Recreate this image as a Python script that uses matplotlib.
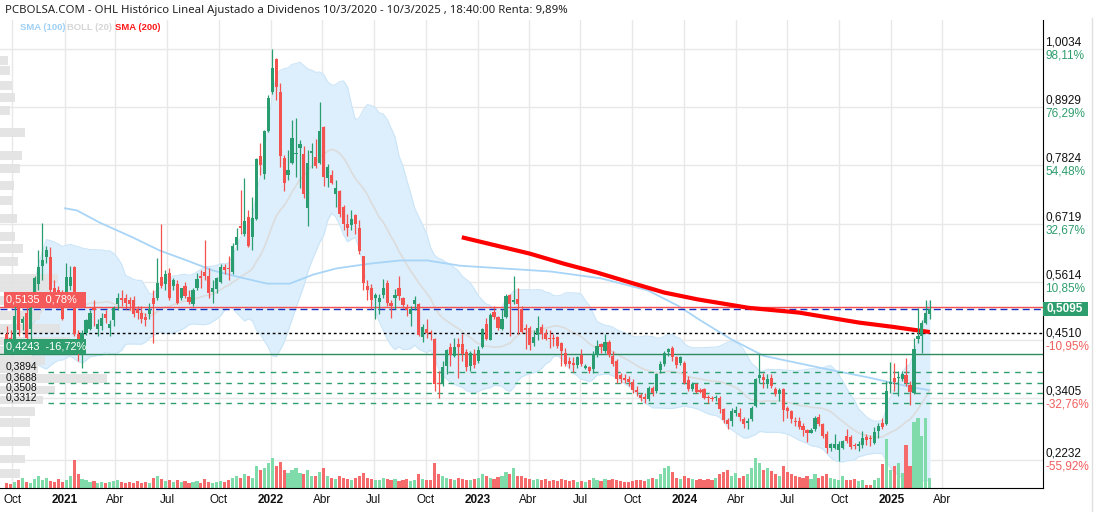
import numpy as np
import pandas as pd
import matplotlib
matplotlib.use("Agg")
import matplotlib.pyplot as plt
import matplotlib.dates as mdates
from matplotlib.transforms import blended_transform_factory
from matplotlib.patches import Rectangle
from matplotlib.lines import Line2D

# weekly candles, first week 2020-09-21
opens = [
    0.463, 0.455, 0.453, 0.512, 0.484, 0.503, 0.472, 0.539, 0.558, 0.592,
    0.608, 0.608, 0.549, 0.545, 0.541, 0.541, 0.554, 0.589, 0.463, 0.453,
    0.465, 0.472, 0.514, 0.472, 0.478, 0.501, 0.474, 0.488, 0.520, 0.531,
    0.530, 0.526, 0.526, 0.510, 0.503, 0.495, 0.501, 0.531, 0.530, 0.570,
    0.558, 0.579, 0.554, 0.558, 0.530, 0.554, 0.533, 0.520, 0.549, 0.573,
    0.581, 0.573, 0.543, 0.547, 0.562, 0.589, 0.587, 0.581, 0.632, 0.667,
    0.653, 0.684, 0.646, 0.680, 0.800, 0.767, 0.847, 0.921, 0.984, 0.921,
    0.796, 0.764, 0.788, 0.804, 0.815, 0.804, 0.701, 0.806, 0.798, 0.788,
    0.855, 0.758, 0.764, 0.729, 0.733, 0.703, 0.672, 0.670, 0.689, 0.663,
    0.610, 0.554, 0.550, 0.530, 0.524, 0.537, 0.560, 0.522, 0.530, 0.549,
    0.530, 0.512, 0.501, 0.520, 0.520, 0.457, 0.472, 0.467, 0.453, 0.370,
    0.370, 0.402, 0.438, 0.421, 0.444, 0.444, 0.429, 0.402, 0.425, 0.412,
    0.438, 0.482, 0.451, 0.505, 0.495, 0.472, 0.495, 0.537, 0.524, 0.528,
    0.510, 0.474, 0.474, 0.446, 0.461, 0.476, 0.465, 0.455, 0.455, 0.457,
    0.446, 0.427, 0.412, 0.408, 0.404, 0.423, 0.398, 0.400, 0.396, 0.423,
    0.444, 0.431, 0.448, 0.421, 0.412, 0.385, 0.379, 0.377, 0.372, 0.356,
    0.347, 0.343, 0.339, 0.360, 0.354, 0.394, 0.406, 0.429, 0.436, 0.419,
    0.408, 0.408, 0.375, 0.358, 0.368, 0.356, 0.358, 0.343, 0.341, 0.341,
    0.341, 0.320, 0.299, 0.297, 0.312, 0.312, 0.301, 0.293, 0.301, 0.326,
    0.379, 0.381, 0.368, 0.379, 0.358, 0.349, 0.358, 0.322, 0.316, 0.297,
    0.297, 0.288, 0.280, 0.274, 0.282, 0.305, 0.291, 0.272, 0.246, 0.246,
    0.242, 0.246, 0.269, 0.267, 0.252, 0.250, 0.252, 0.267, 0.265, 0.255,
    0.278, 0.293, 0.291, 0.368, 0.379, 0.379, 0.377, 0.385, 0.366, 0.351,
    0.453, 0.459, 0.484, 0.501]
closes = [
    0.453, 0.450, 0.497, 0.469, 0.491, 0.455, 0.512, 0.568, 0.589, 0.602,
    0.621, 0.545, 0.541, 0.526, 0.491, 0.570, 0.570, 0.463, 0.450, 0.465,
    0.488, 0.503, 0.507, 0.482, 0.493, 0.493, 0.482, 0.512, 0.531, 0.526,
    0.522, 0.520, 0.501, 0.503, 0.491, 0.488, 0.510, 0.520, 0.560, 0.554,
    0.577, 0.531, 0.564, 0.522, 0.549, 0.535, 0.524, 0.545, 0.566, 0.568,
    0.573, 0.541, 0.549, 0.568, 0.589, 0.583, 0.585, 0.630, 0.646, 0.663,
    0.676, 0.630, 0.682, 0.794, 0.783, 0.847, 0.911, 0.967, 0.931, 0.800,
    0.750, 0.773, 0.834, 0.806, 0.823, 0.729, 0.788, 0.809, 0.781, 0.847,
    0.760, 0.779, 0.750, 0.739, 0.691, 0.672, 0.663, 0.680, 0.672, 0.619,
    0.560, 0.545, 0.526, 0.537, 0.531, 0.550, 0.522, 0.516, 0.537, 0.535,
    0.518, 0.507, 0.510, 0.526, 0.461, 0.476, 0.465, 0.465, 0.368, 0.368,
    0.400, 0.432, 0.423, 0.438, 0.438, 0.425, 0.400, 0.427, 0.404, 0.432,
    0.472, 0.453, 0.499, 0.495, 0.474, 0.491, 0.535, 0.520, 0.526, 0.520,
    0.467, 0.470, 0.442, 0.457, 0.474, 0.463, 0.453, 0.453, 0.453, 0.440,
    0.431, 0.406, 0.406, 0.404, 0.419, 0.406, 0.402, 0.392, 0.425, 0.440,
    0.438, 0.448, 0.423, 0.406, 0.377, 0.377, 0.375, 0.372, 0.356, 0.352,
    0.341, 0.339, 0.360, 0.351, 0.387, 0.406, 0.427, 0.434, 0.419, 0.404,
    0.419, 0.370, 0.358, 0.368, 0.352, 0.352, 0.341, 0.341, 0.339, 0.343,
    0.320, 0.299, 0.291, 0.316, 0.318, 0.305, 0.291, 0.297, 0.322, 0.377,
    0.385, 0.375, 0.377, 0.364, 0.349, 0.356, 0.318, 0.316, 0.301, 0.295,
    0.286, 0.280, 0.274, 0.280, 0.303, 0.291, 0.269, 0.246, 0.254, 0.254,
    0.254, 0.259, 0.259, 0.248, 0.250, 0.254, 0.265, 0.261, 0.263, 0.276,
    0.288, 0.286, 0.354, 0.372, 0.372, 0.381, 0.387, 0.370, 0.352, 0.434,
    0.459, 0.484, 0.503, 0.5095]
highs = [
    0.478, 0.469, 0.526, 0.516, 0.497, 0.516, 0.516, 0.573, 0.621, 0.674,
    0.630, 0.627, 0.564, 0.554, 0.545, 0.598, 0.592, 0.592, 0.469, 0.469,
    0.491, 0.507, 0.526, 0.491, 0.503, 0.507, 0.488, 0.516, 0.541, 0.545,
    0.539, 0.533, 0.535, 0.516, 0.516, 0.503, 0.522, 0.545, 0.606, 0.672,
    0.583, 0.587, 0.568, 0.564, 0.550, 0.562, 0.545, 0.550, 0.579, 0.583,
    0.640, 0.587, 0.564, 0.570, 0.596, 0.596, 0.611, 0.636, 0.663, 0.735,
    0.758, 0.697, 0.722, 0.796, 0.825, 0.849, 0.916, 1.003, 0.986, 0.939,
    0.802, 0.811, 0.868, 0.872, 0.830, 0.819, 0.811, 0.825, 0.832, 0.902,
    0.857, 0.786, 0.773, 0.754, 0.735, 0.707, 0.691, 0.697, 0.691, 0.678,
    0.611, 0.564, 0.558, 0.541, 0.539, 0.566, 0.564, 0.526, 0.547, 0.573,
    0.533, 0.520, 0.516, 0.535, 0.522, 0.482, 0.491, 0.469, 0.455, 0.392,
    0.412, 0.434, 0.446, 0.455, 0.455, 0.463, 0.434, 0.431, 0.434, 0.440,
    0.474, 0.493, 0.503, 0.516, 0.497, 0.510, 0.539, 0.539, 0.573, 0.550,
    0.516, 0.482, 0.478, 0.469, 0.497, 0.482, 0.472, 0.469, 0.463, 0.459,
    0.448, 0.436, 0.419, 0.419, 0.421, 0.434, 0.406, 0.402, 0.431, 0.450,
    0.446, 0.463, 0.450, 0.431, 0.415, 0.389, 0.387, 0.383, 0.377, 0.364,
    0.351, 0.351, 0.364, 0.364, 0.389, 0.412, 0.431, 0.436, 0.440, 0.421,
    0.421, 0.412, 0.383, 0.372, 0.370, 0.360, 0.360, 0.347, 0.345, 0.347,
    0.345, 0.322, 0.303, 0.322, 0.326, 0.322, 0.305, 0.303, 0.326, 0.379,
    0.425, 0.389, 0.387, 0.387, 0.362, 0.360, 0.360, 0.326, 0.318, 0.305,
    0.305, 0.293, 0.282, 0.284, 0.307, 0.311, 0.293, 0.278, 0.255, 0.272,
    0.259, 0.261, 0.282, 0.271, 0.255, 0.259, 0.278, 0.272, 0.271, 0.286,
    0.293, 0.303, 0.373, 0.410, 0.408, 0.392, 0.392, 0.417, 0.373, 0.455,
    0.512, 0.488, 0.526, 0.526]
lows = [
    0.446, 0.440, 0.450, 0.459, 0.469, 0.450, 0.450, 0.526, 0.545, 0.564,
    0.598, 0.541, 0.533, 0.516, 0.488, 0.535, 0.545, 0.459, 0.412, 0.398,
    0.461, 0.469, 0.478, 0.459, 0.469, 0.484, 0.459, 0.478, 0.507, 0.516,
    0.510, 0.507, 0.495, 0.491, 0.484, 0.478, 0.491, 0.446, 0.526, 0.549,
    0.545, 0.526, 0.545, 0.520, 0.526, 0.531, 0.520, 0.516, 0.545, 0.550,
    0.564, 0.531, 0.522, 0.541, 0.560, 0.577, 0.564, 0.577, 0.621, 0.653,
    0.649, 0.628, 0.621, 0.678, 0.764, 0.756, 0.845, 0.919, 0.906, 0.779,
    0.733, 0.754, 0.786, 0.760, 0.739, 0.720, 0.668, 0.777, 0.777, 0.786,
    0.743, 0.741, 0.748, 0.703, 0.684, 0.659, 0.649, 0.659, 0.653, 0.615,
    0.545, 0.526, 0.510, 0.491, 0.501, 0.531, 0.516, 0.493, 0.510, 0.526,
    0.512, 0.497, 0.478, 0.507, 0.459, 0.448, 0.455, 0.450, 0.354, 0.341,
    0.364, 0.387, 0.402, 0.419, 0.379, 0.412, 0.392, 0.392, 0.398, 0.408,
    0.436, 0.450, 0.450, 0.491, 0.469, 0.469, 0.493, 0.459, 0.520, 0.463,
    0.465, 0.434, 0.432, 0.440, 0.450, 0.453, 0.450, 0.436, 0.440, 0.436,
    0.402, 0.402, 0.398, 0.390, 0.398, 0.402, 0.396, 0.389, 0.389, 0.419,
    0.427, 0.427, 0.419, 0.402, 0.370, 0.370, 0.370, 0.364, 0.351, 0.345,
    0.335, 0.332, 0.335, 0.345, 0.351, 0.389, 0.402, 0.421, 0.412, 0.398,
    0.404, 0.368, 0.354, 0.354, 0.351, 0.351, 0.339, 0.332, 0.335, 0.335,
    0.312, 0.293, 0.282, 0.288, 0.307, 0.297, 0.284, 0.282, 0.297, 0.324,
    0.370, 0.360, 0.360, 0.360, 0.345, 0.335, 0.297, 0.303, 0.293, 0.288,
    0.282, 0.269, 0.257, 0.274, 0.278, 0.288, 0.265, 0.236, 0.240, 0.244,
    0.221, 0.244, 0.255, 0.244, 0.244, 0.240, 0.246, 0.252, 0.250, 0.254,
    0.265, 0.282, 0.290, 0.351, 0.354, 0.345, 0.373, 0.364, 0.328, 0.349,
    0.446, 0.427, 0.482, 0.491]
volumes = [
    5, 4, 6, 8, 10, 6, 5, 9, 12, 8,
    10, 7, 6, 9, 6, 8, 12, 28, 14, 9,
    8, 6, 7, 5, 6, 5, 6, 7, 8, 6,
    5, 6, 5, 7, 5, 6, 5, 10, 12, 9,
    7, 8, 6, 8, 6, 7, 5, 6, 7, 5,
    9, 6, 5, 6, 7, 6, 8, 10, 12, 10,
    14, 12, 10, 22, 18, 20, 25, 30, 22, 26,
    18, 15, 18, 20, 15, 14, 18, 12, 12, 16,
    20, 12, 10, 9, 12, 10, 9, 8, 10, 12,
    15, 10, 9, 8, 8, 10, 9, 8, 9, 7,
    8, 9, 7, 8, 14, 9, 8, 8, 25, 14,
    12, 10, 9, 8, 10, 9, 8, 8, 9, 10,
    14, 12, 10, 9, 11, 12, 16, 14, 20, 12,
    12, 10, 9, 8, 9, 8, 9, 7, 8, 7,
    9, 8, 7, 8, 6, 7, 6, 8, 10, 8,
    7, 9, 8, 9, 8, 7, 6, 6, 7, 8,
    8, 7, 9, 10, 9, 14, 20, 22, 16, 10,
    9, 12, 10, 9, 8, 9, 8, 9, 8, 10,
    14, 16, 18, 12, 15, 10, 12, 14, 20, 30,
    25, 18, 20, 17, 14, 12, 22, 16, 14, 12,
    11, 10, 12, 9, 14, 10, 12, 14, 10, 9,
    8, 12, 8, 8, 9, 7, 8, 3, 3, 8,
    10, 24, 49, 18, 22, 25, 15, 43, 22, 66,
    70, 52, 70, 10]

sma100_dates = ["2021-01-02", "2021-01-23", "2021-03-04", "2021-05-01", "2021-06-18",
                "2021-08-10", "2021-09-20", "2021-11-07", "2021-12-25", "2022-02-03",
                "2022-03-16", "2022-04-27", "2022-06-25", "2022-08-17", "2022-10-04",
                "2022-12-01", "2023-01-29", "2023-05-10", "2023-08-07", "2023-10-29",
                "2023-12-21", "2024-01-30", "2024-03-23", "2024-05-20", "2024-08-29",
                "2024-11-25", "2025-02-03", "2025-03-07"]
sma100 = [0.701, 0.697, 0.674, 0.646, 0.621, 0.600, 0.583, 0.570, 0.558, 0.558,
          0.575, 0.587, 0.596, 0.602, 0.602, 0.592, 0.588, 0.581, 0.568, 0.545,
          0.516, 0.488, 0.453, 0.421, 0.398, 0.379, 0.362, 0.356]
sma200_dates = ["2022-12-04", "2023-02-04", "2023-04-03", "2023-06-02", "2023-07-31",
                "2023-09-28", "2023-11-27", "2024-01-25", "2024-04-24", "2024-07-22",
                "2024-11-05", "2025-01-03", "2025-03-10"]
sma200 = [0.646, 0.630, 0.615, 0.596, 0.579, 0.560, 0.541, 0.528, 0.512, 0.503,
          0.484, 0.476, 0.466]

# volume profile (price level, relative volume)
profile_prices = [0.982, 0.963, 0.935, 0.912, 0.887, 0.845, 0.802, 0.777, 0.745, 0.716,
                  0.682, 0.648, 0.625, 0.600, 0.568, 0.550, 0.526, 0.497, 0.472, 0.449,
                  0.431, 0.412, 0.396, 0.377, 0.356, 0.337, 0.316, 0.294, 0.259, 0.225,
                  0.198]
profile_vol = [8, 10, 12, 15, 10, 25, 22, 20, 14, 12,
               17, 15, 23, 18, 58, 50, 85, 40, 60, 70,
               80, 45, 38, 107, 55, 43, 35, 30, 30, 25,
               20]

axis_prices = [1.0034, 0.8929, 0.7824, 0.6719, 0.5614, 0.4510, 0.3405, 0.2232]
axis_pcts = ["98,11%", "76,29%", "54,48%", "32,67%", "10,85%", "-10,95%", "-32,76%", "-55,92%"]
support_levels = [0.3894, 0.3688, 0.3508, 0.3312]
support_labels = ["0,3894", "0,3688", "0,3508", "0,3312"]
high_level, high_label = 0.5135, "0,5135  0,78%"
low_level, low_label = 0.4243, "0,4243  -16,72%"
last_price, last_label = 0.5095, "0,5095"
sma200_last = 0.465

quarter_ticks = ["2020-10-01", "2021-01-01", "2021-04-01", "2021-07-01", "2021-10-01",
                 "2022-01-01", "2022-04-01", "2022-07-01", "2022-10-01", "2023-01-01",
                 "2023-04-01", "2023-07-01", "2023-10-01", "2024-01-01", "2024-04-01",
                 "2024-07-01", "2024-10-01", "2025-01-01", "2025-04-01"]
quarter_labels = ["Oct", "2021", "Abr", "Jul", "Oct", "2022", "Abr", "Jul", "Oct", "2023",
                  "Abr", "Jul", "Oct", "2024", "Abr", "Jul", "Oct", "2025", "Abr"]

GREEN = "#2a9d70"
RED = "#f4524f"
VGREEN = "#7fdcaa"
VRED = "#f56a6a"
ARIAL = ["Liberation Sans", "DejaVu Sans"]

dates = pd.date_range("2020-09-21", periods=len(closes), freq="W-MON")
xd = mdates.date2num(dates)
o = np.array(opens)
c = np.array(closes)
h = np.maximum(np.array(highs), np.maximum(o, c))
l = np.minimum(np.array(lows), np.minimum(o, c))
up = c >= o

fig = plt.figure(figsize=(10.96, 5.12), dpi=100)
ax = fig.add_axes([0, 24 / 512, 1043 / 1096, 468 / 512])
ymin, ymax = 0.1699, 1.0586
xmin = mdates.date2num(pd.Timestamp("2020-09-09"))
xmax = mdates.date2num(pd.Timestamp("2025-09-26"))

# bollinger (20)
s = pd.Series(c)
mid = s.rolling(20, min_periods=5).mean()
sd = s.rolling(20, min_periods=5).std(ddof=0)
bu, bl = mid + 2 * sd, mid - 2 * sd
ax.fill_between(xd, bl, bu, color="#ddeffc", lw=0, zorder=1)
ax.plot(xd, bu, color="#cbe5f8", lw=0.8, zorder=1.1)
ax.plot(xd, bl, color="#cbe5f8", lw=0.8, zorder=1.1)
ax.plot(xd, mid, color="#dcdcdc", lw=1.2, zorder=1.2)

# volume profile on the left
tr_prof = blended_transform_factory(ax.transAxes, ax.transData)
pw = np.array(profile_vol) / max(profile_vol) * (107 / 1043)
ax.barh(profile_prices, pw, height=0.017, left=0, color="#e2e2e2", alpha=0.9,
        transform=tr_prof, zorder=2)

# volume
tr_vol = blended_transform_factory(ax.transData, ax.transAxes)
vh = np.array(volumes) / max(volumes) * (70 / 468)
ax.bar(xd, vh, width=5.6, bottom=0, color=np.where(up, VGREEN, VRED),
       transform=tr_vol, zorder=2.5, linewidth=0)

# moving averages
ax.plot(mdates.date2num(pd.to_datetime(sma100_dates)), sma100, color="#a8d5f7", lw=1.3, zorder=3)
ax.plot(mdates.date2num(pd.to_datetime(sma200_dates)), sma200, color="#ff0000", lw=3,
        solid_capstyle="butt", zorder=3.2)

# level lines
ax.axhline(high_level, color="#f55050", lw=1, zorder=3)
ax.axhline(last_price, color="#1030c0", lw=1, ls=(0, (5, 3)), zorder=3)
ax.axhline(sma200_last, color="black", lw=1, ls=(0, (2, 2)), zorder=3)
ax.axhline(low_level, color="#2e8b60", lw=1, zorder=3)
for lv in support_levels:
    ax.plot([48 / 1043, 1], [lv, lv], transform=tr_prof, color="#2e9e6e", lw=1,
            ls=(0, (4, 4)), zorder=3)

# candles
ax.vlines(xd, l, h, colors=np.where(up, GREEN, RED), lw=0.9, zorder=4)
bh = np.maximum(np.abs(c - o), 0.0018)
ax.bar(xd, bh, width=5.6, bottom=np.minimum(o, c), color=np.where(up, GREEN, RED),
       zorder=4.5, linewidth=0)

ax.set_xlim(xmin, xmax)
ax.set_ylim(ymin, ymax)

# grid
ax.set_yticks(axis_prices)
ax.set_xticks(mdates.date2num(pd.to_datetime(quarter_ticks)))
ax.set_xticklabels(quarter_labels, family=ARIAL, fontsize=8.5)
for lab in ax.get_xticklabels():
    if lab.get_text().isdigit():
        lab.set_fontweight("bold")
ax.grid(True, color="#e8e8e8", lw=1, zorder=0)
ax.set_axisbelow(True)
ax.tick_params(axis="y", length=0, labelleft=False, labelright=False)
ax.tick_params(axis="x", length=0, pad=4, colors="#111111")
for sp in ["top", "left"]:
    ax.spines[sp].set_visible(False)
ax.spines["right"].set_color("black")
ax.spines["bottom"].set_color("black")

# right price labels
tr_r = blended_transform_factory(ax.transAxes, ax.transData)
for p, t in zip(axis_prices, axis_pcts):
    ax.text(1.002, p + 0.001, f"{p:.4f}".replace(".", ","), transform=tr_r, fontsize=8.5,
            family=ARIAL, color="#111111", va="bottom", ha="left", clip_on=False)
    ax.text(1.002, p - 0.001, t, transform=tr_r, fontsize=8.5, family=ARIAL,
            color="#2e9e6e" if not t.startswith("-") else "#f25c5c",
            va="top", ha="left", clip_on=False)

# current price box
bx = Rectangle((1.0, last_price - 0.0135), 45 / 1043, 0.027, transform=tr_r,
               facecolor="#2e9e6e", edgecolor="none", clip_on=False, zorder=6)
ax.add_patch(bx)
ax.text(1.003, last_price, last_label, transform=tr_r, fontsize=8.5, color="white",
        va="center", ha="left", fontweight="bold", family=ARIAL, clip_on=False, zorder=7)

# left level boxes
for lv, txt, col in [(high_level, high_label, "#f55a5a"), (low_level, low_label, "#2e9e6e")]:
    ax.add_patch(Rectangle((0.004, lv), 82 / 1043, 0.029, transform=tr_prof,
                           facecolor=col, edgecolor="none", zorder=6))
    ax.text(0.0055, lv + 0.0145, txt, transform=tr_prof, fontsize=7.9, color="white",
            family=ARIAL, va="center", ha="left", zorder=7)
for lv, txt in zip(support_levels, support_labels):
    ax.text(0.005, lv + 0.0008, txt, transform=tr_prof, fontsize=7.4, color="#111111",
            family=ARIAL, va="bottom", ha="left", zorder=7)

# titles
fig.text(5 / 1096, 1 - 11 / 512, "PCBOLSA.COM - OHL Histórico Lineal Ajustado a Dividenos "
         "10/3/2020 - 10/3/2025 , 18:40:00 Renta: 9,89%", fontsize=8.2,
         fontweight="semibold", family="Noto Sans", color="#222222", va="center")
for xp, txt, col in [(20, "SMA (100)", "#9fd0f5"), (67, "BOLL (20)", "#d6d6d6"),
                     (115, "SMA (200)", "#ff1a1a")]:
    fig.text(xp / 1096, 1 - 28 / 512, txt, fontsize=6.8, color=col, va="center",
             family=ARIAL, fontweight="bold")

fig.add_artist(Line2D([1092 / 1096, 1092 / 1096], [0, 1 - 18 / 512], color="#e0e0e0", lw=1))

fig.savefig("out.png", dpi=100)
